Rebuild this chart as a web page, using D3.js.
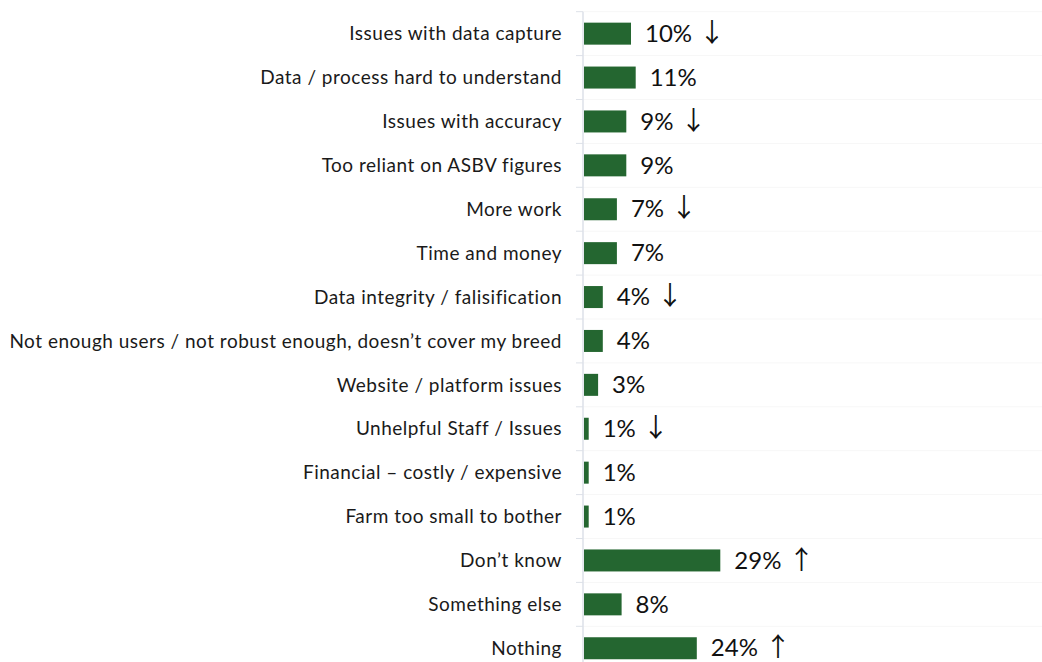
<!DOCTYPE html>
<html>
<head>
<meta charset="utf-8">
<script src="https://cdn.jsdelivr.net/npm/d3@7"></script>
<style>
  html, body { margin: 0; padding: 0; background: #ffffff; }
  svg { display: block; }
  .cat { font-family: Lato, "Open Sans", sans-serif; font-size: 19px; letter-spacing: 0.5px; fill: #1a1a1a; }
  .val { font-family: Lato, "Open Sans", sans-serif; font-size: 24px; fill: #111111; }
  .arrow { font-family: "Noto Sans CJK JP", "DejaVu Sans", sans-serif; font-size: 26px; }
</style>
</head>
<body>
<svg id="chart" width="1042" height="662"></svg>
<script>
// Reasons given, top to bottom
const categories = [
  "Issues with data capture",
  "Data / process hard to understand",
  "Issues with accuracy",
  "Too reliant on ASBV figures",
  "More work",
  "Time and money",
  "Data integrity / falisification",
  "Not enough users / not robust enough, doesn\u2019t cover my breed",
  "Website / platform issues",
  "Unhelpful Staff / Issues",
  "Financial \u2013 costly / expensive",
  "Farm too small to bother",
  "Don\u2019t know",
  "Something else",
  "Nothing"
];

// Share of respondents (%)
const values = [10, 11, 9, 9, 7, 7, 4, 4, 3, 1, 1, 1, 29, 8, 24];

// Significant change vs. previous wave: "down", "up" or ""
const changes = ["down", "", "down", "", "down", "", "down", "", "", "down", "", "", "up", "", "up"];

const data = categories.map((c, i) => ({ cat: c, value: values[i], change: changes[i] }));

const svg = d3.select("#chart");
const W = 1042;

const axisX = 583;
const plotTop = 11.7;
const step = 43.9;

const y = d3.scaleBand()
  .domain(categories)
  .range([plotTop, plotTop + step * categories.length])
  .paddingInner(0.5)
  .paddingOuter(0.25);

const x = d3.scaleLinear()
  .domain([0, 100])
  .range([axisX + 1, axisX + 1 + 470]);

// Band boundaries for gridlines and tick marks
const bandTop = c => y(c) - (y.step() - y.bandwidth()) / 2;
const edges = categories.map(bandTop).concat([y.range()[1]]);

// Faint horizontal gridlines
svg.append("g").selectAll("line")
  .data(edges)
  .join("line")
  .attr("x1", axisX).attr("x2", W)
  .attr("y1", d => d).attr("y2", d => d)
  .attr("stroke", "#f7f7f7")
  .attr("stroke-width", 1);

// Tick marks on the left of the axis
svg.append("g").selectAll("line")
  .data(edges)
  .join("line")
  .attr("x1", axisX - 7).attr("x2", axisX)
  .attr("y1", d => d).attr("y2", d => d)
  .attr("stroke", "#dde1e8")
  .attr("stroke-width", 1);

// Category axis line
svg.append("line")
  .attr("x1", axisX).attr("x2", axisX)
  .attr("y1", y.range()[0]).attr("y2", y.range()[1])
  .attr("stroke", "#dde1e8")
  .attr("stroke-width", 1.5);

// Bars
svg.append("g").selectAll("rect")
  .data(data)
  .join("rect")
  .attr("x", x(0))
  .attr("y", d => y(d.cat) + (y.bandwidth() - 22) / 2)
  .attr("width", d => x(d.value) - x(0))
  .attr("height", 22)
  .attr("fill", "#246630");

// Category labels
svg.append("g").selectAll("text")
  .data(data)
  .join("text")
  .attr("class", "cat")
  .attr("x", 562)
  .attr("y", d => y(d.cat) + y.bandwidth() / 2)
  .attr("dy", "0.35em")
  .attr("text-anchor", "end")
  .text(d => d.cat);

// Value labels with change arrows
const vals = svg.append("g").selectAll("text")
  .data(data)
  .join("text")
  .attr("class", "val")
  .attr("x", d => x(d.value) + 14)
  .attr("y", d => y(d.cat) + y.bandwidth() / 2)
  .attr("dy", "0.34em");

vals.append("tspan").text(d => d.value + "%");
vals.filter(d => d.change)
  .append("tspan")
  .attr("class", "arrow")
  .attr("dx", 7)
  .text(d => d.change === "down" ? "\u2193" : "\u2191");
</script>
</body>
</html>
